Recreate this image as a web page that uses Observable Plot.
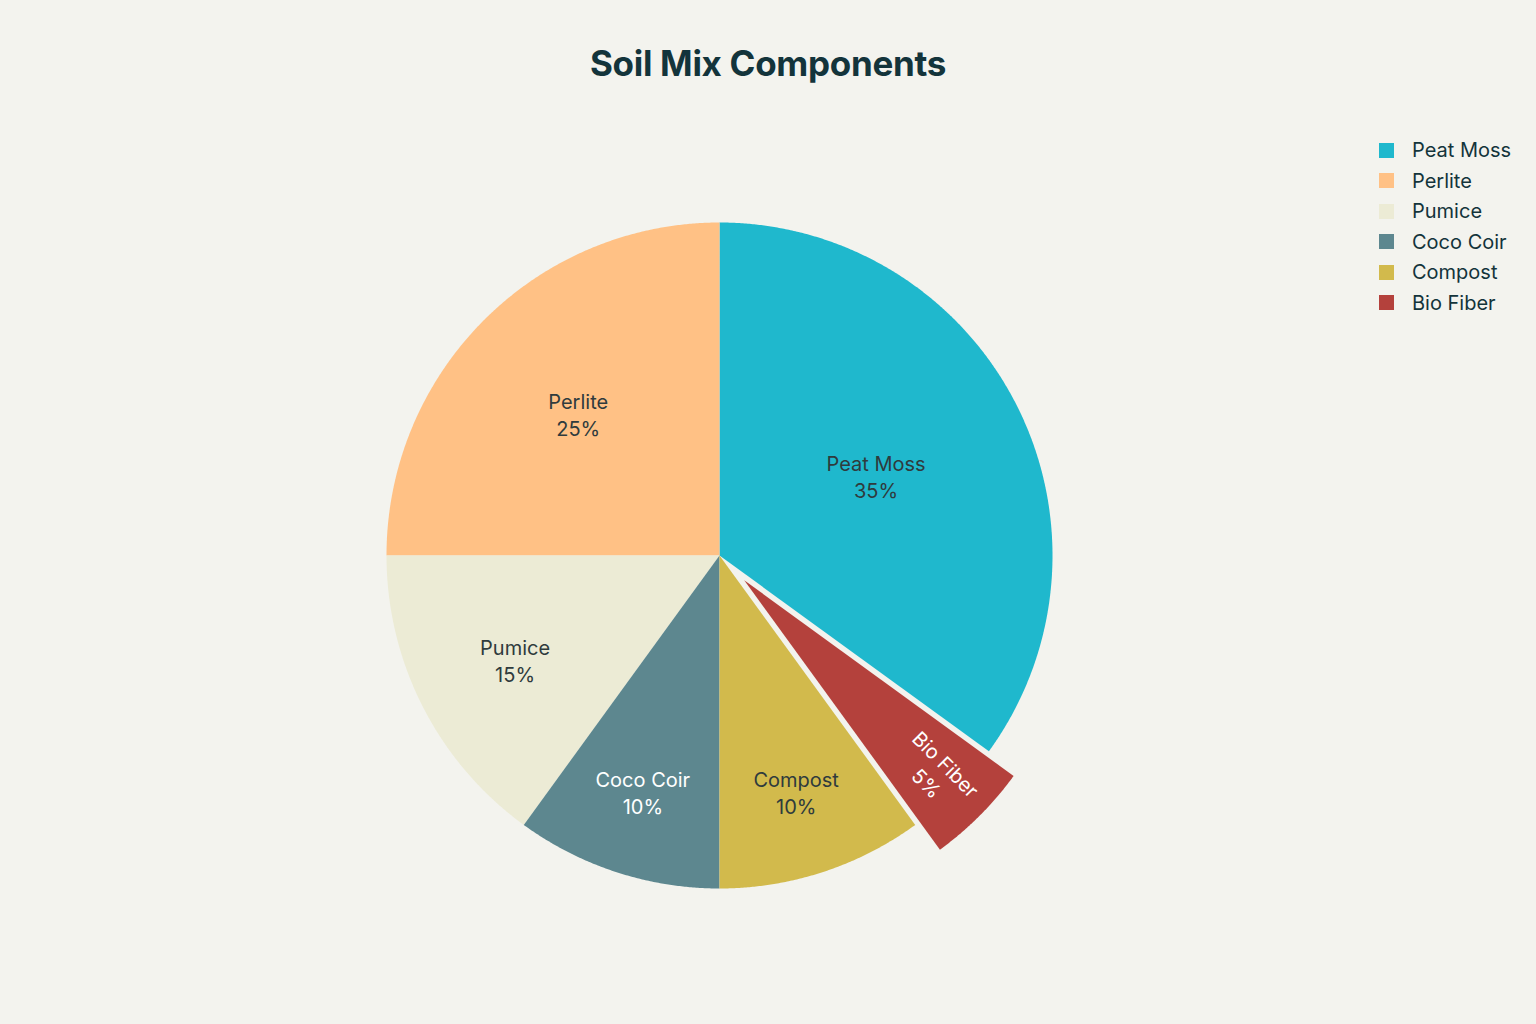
<!DOCTYPE html>
<html><head><meta charset="utf-8">
<script src="https://cdn.jsdelivr.net/npm/d3@7"></script>
<script src="https://cdn.jsdelivr.net/npm/@observablehq/plot@0.6"></script>
<style>
body{margin:0;background:#f3f3ee;font-family:Inter,"Noto Sans",sans-serif;}
#wrap{position:relative;width:1536px;height:1024px;overflow:hidden;}
#chart{position:absolute;left:0;top:0;}
#title{position:absolute;left:0;top:40px;width:1536px;text-align:center;font-size:35px;font-weight:700;color:#13343b;line-height:46px;letter-spacing:-0.3px;}
#legend{position:absolute;left:1379px;top:135px;}
.row{display:flex;align-items:center;height:30.5px;font-size:20px;color:#13343b;}
.sw{width:15px;height:15px;margin-right:18px;}
</style></head><body>
<div id="wrap"><div id="chart"></div><div id="title">Soil Mix Components</div><div id="legend"></div></div>
<script>
const components = ["Peat Moss","Perlite","Pumice","Coco Coir","Compost","Bio Fiber"];
const shares = [35,25,15,10,10,5];
const colors = ["#1FB8CD","#FFC185","#ECEBD5","#5D878F","#D2BA4C","#B4413C"];
const labelColors = ["#2f3b3d","#2f3b3d","#2f3b3d","#ffffff","#2f3b3d","#ffffff"];
const pulledSlice = "Bio Fiber";

const total = d3.sum(shares);
const start = 2*Math.PI*shares[0]/total;
const arcs = d3.pie().sort(null).startAngle(start).endAngle(start-2*Math.PI)(shares);
const slicePts = [];
const labels = [];
arcs.forEach((a,i)=>{
  const name = components[i];
  const mid = (a.startAngle+a.endAngle)/2;
  const p = name===pulledSlice ? 0.105 : 0;
  const cx = p*Math.sin(mid), cy = p*Math.cos(mid);
  slicePts.push({name, x:cx, y:cy});
  const n = Math.max(2, Math.ceil(Math.abs(a.endAngle-a.startAngle)/0.005));
  for(let k=0;k<=n;k++){
    const t = a.startAngle+(a.endAngle-a.startAngle)*k/n;
    slicePts.push({name, x:cx+Math.sin(t), y:cy+Math.cos(t)});
  }
  slicePts.push({name, x:cx, y:cy});
  const frac = shares[i]/total;
  const lr = 0.995-0.79*Math.sqrt(frac);
  let deg = ((mid*180/Math.PI)%360+360)%360;
  labels.push({
    name,
    text: `${name}\n${shares[i]}%`,
    x: cx+lr*Math.sin(mid),
    y: cy+lr*Math.cos(mid),
    rotate: frac<0.07 ? deg-90 : 0,
    color: labelColors[i]
  });
});

const plot = Plot.plot({
  width: 1536,
  height: 1024,
  marginLeft: 386,
  marginRight: 484,
  marginTop: 222,
  marginBottom: 136,
  x: {domain:[-1,1], axis:null},
  y: {domain:[-1,1], axis:null},
  color: {domain: components, range: colors},
  style: {background:"transparent", fontFamily:"Inter, 'Noto Sans', sans-serif"},
  marks: [
    Plot.line(slicePts, {x:"x", y:"y", z:"name", fill:"name", stroke:"none", curve:"linear"}),
    Plot.text(labels, {x:"x", y:"y", text:"text", fill:d=>d.color, rotate:"rotate", fontSize:20, lineHeight:1.35, lineAnchor:"middle"})
  ]
});
document.getElementById("chart").appendChild(plot);

const leg = document.getElementById("legend");
components.forEach((c,i)=>{
  const r = document.createElement("div"); r.className="row";
  const s = document.createElement("div"); s.className="sw"; s.style.background=colors[i];
  const t = document.createElement("span"); t.textContent=c;
  r.appendChild(s); r.appendChild(t); leg.appendChild(r);
});
</script>
</body></html>
